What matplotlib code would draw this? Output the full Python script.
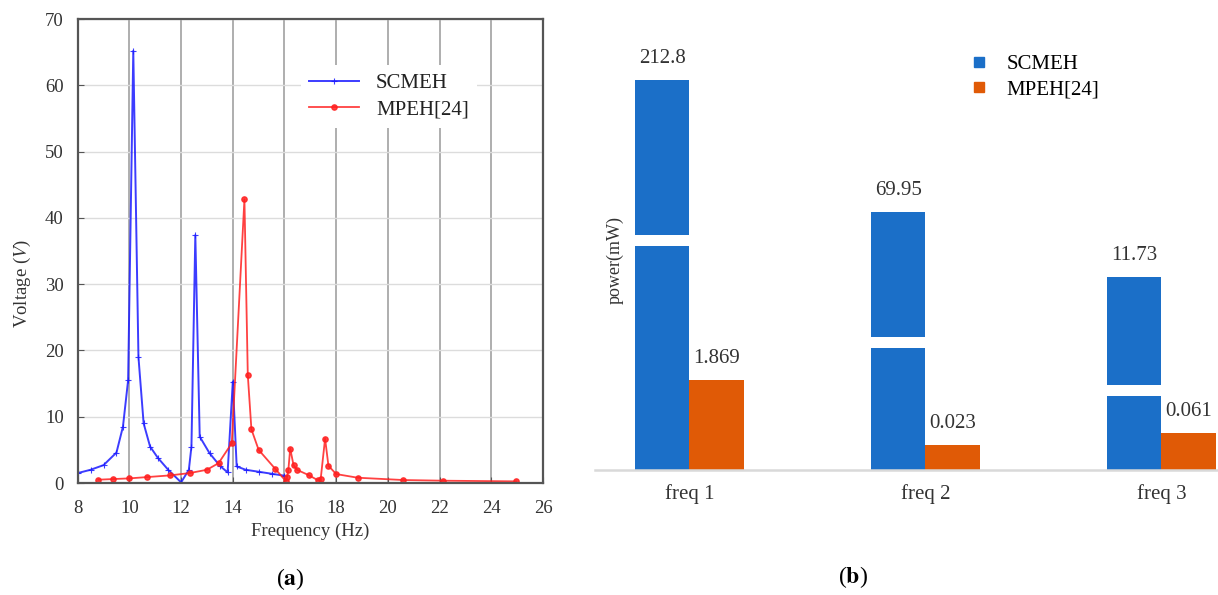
import numpy as np
import matplotlib.pyplot as plt
from matplotlib.lines import Line2D

plt.rcParams['font.family'] = ['Liberation Serif', 'DejaVu Serif']
plt.rcParams['mathtext.fontset'] = 'stix'

# (a) voltage response
scmeh_f = [8.0, 8.5, 9.0, 9.5, 9.75, 9.95, 10.15, 10.35, 10.55, 10.8, 11.1, 11.5, 12.0,
           12.3, 12.4, 12.55, 12.72, 13.1, 13.5, 13.8, 14.0, 14.15, 14.5, 15.0, 15.5, 16.0]
scmeh_v = [1.5, 2.0, 2.7, 4.6, 8.5, 15.5, 65.2, 19.0, 9.0, 5.5, 3.8, 2.0, 0.1,
           2.0, 5.5, 37.4, 7.0, 4.5, 2.6, 1.6, 15.3, 2.5, 2.0, 1.7, 1.4, 1.1]

mpeh_f = [8.8, 9.38, 10.0, 10.7, 11.57, 12.33, 13.0, 13.45, 13.96, 14.45, 14.58, 14.72,
          15.0, 15.65, 16.05, 16.1, 16.15, 16.22, 16.35, 16.48, 16.93, 17.3, 17.4, 17.57,
          17.7, 18.0, 18.83, 20.6, 22.13, 24.97]
mpeh_v = [0.5, 0.6, 0.7, 0.9, 1.15, 1.5, 2.0, 3.0, 6.0, 42.8, 16.3, 8.1,
          5.0, 2.1, 0.3, 0.9, 2.0, 5.2, 2.7, 2.0, 1.2, 0.4, 0.6, 6.7,
          2.6, 1.35, 0.8, 0.45, 0.35, 0.25]

# (b) power, bars are drawn on a broken (not to scale) axis
freqs = ['freq 1', 'freq 2', 'freq 3']
scmeh_power = ['212.8', '69.95', '11.73']
mpeh_power = ['1.869', '0.023', '0.061']
scmeh_shown = [390, 258, 193]      # drawn bar heights
mpeh_shown = [90, 25, 37]
break_low = [224, 122, 74]         # where the white break band sits
break_size = 11

fig = plt.figure(figsize=(12.18, 5.95), dpi=100)

# ---- left panel ----
ax1 = fig.add_axes([0.0638, 0.1882, 0.3820, 0.7798])
ax1.plot(scmeh_f, scmeh_v, color='#1a1aff', lw=1.4, alpha=0.85, marker='+',
         ms=4, mew=0.8, label='SCMEH')
ax1.plot(mpeh_f, mpeh_v, color='#ff2020', lw=1.3, alpha=0.85, marker='o',
         ms=3.8, label='MPEH[24]')
ax1.set_xlim(8, 26)
ax1.set_ylim(0, 70)
ax1.set_xticks(np.arange(8, 27, 2))
ax1.set_yticks(np.arange(0, 71, 10))
ax1.xaxis.grid(True, color='#a8a8a8', lw=1.3)
ax1.yaxis.grid(True, color='#dcdcdc', lw=1.0)
ax1.set_axisbelow(True)
for s in ax1.spines.values():
    s.set_color('#555555')
    s.set_linewidth(1.6)
ax1.tick_params(direction='in', length=4, color='#555555', labelsize=13.5,
                labelcolor='#333333')
ax1.tick_params(axis='x', pad=12)
ax1.tick_params(axis='y', pad=10)
ax1.set_xlabel('Frequency (Hz)', fontsize=13.5, color='#333333', labelpad=4)
fig.text(22 / 1218, (595 - 283) / 595, r'Voltage ($V$)', rotation=90,
         ha='center', va='center', fontsize=13.5, color='#333333')
leg = ax1.legend(loc='upper left', bbox_to_anchor=(0.48, 0.90), fontsize=15,
                 handlelength=2.4, handletextpad=0.8, borderaxespad=0,
                 frameon=True, edgecolor='none', facecolor='white', framealpha=1,
                 labelspacing=0.3)
for t in leg.get_texts():
    t.set_color('#222222')

# ---- right panel ----
ax2 = fig.add_axes([0.4885, 0.2101, 0.5115, 0.7227])
x = np.arange(len(freqs))
w = 0.23
blue = '#1b6fc8'
orange = '#e05a06'
ax2.bar(x - w / 2, scmeh_shown, w, color=blue)
ax2.bar(x + w / 2, mpeh_shown, w, color=orange)
ax2.bar(x - w / 2, [break_size] * 3, w * 1.1, bottom=break_low, color='white')
for i in range(len(freqs)):
    ax2.text(x[i] - w / 2, scmeh_shown[i] + 12, scmeh_power[i], ha='center',
             va='bottom', fontsize=15, color='#333333')
    ax2.text(x[i] + w / 2, mpeh_shown[i] + 12, mpeh_power[i], ha='center',
             va='bottom', fontsize=15, color='#333333')
ax2.set_xlim(-0.40, 2.24)
ax2.set_ylim(0, 430)
ax2.set_xticks(x)
ax2.set_xticklabels(freqs, fontsize=15, color='#333333')
ax2.tick_params(axis='x', length=0, pad=10)
ax2.set_yticks([])
for k in ['top', 'right', 'left']:
    ax2.spines[k].set_visible(False)
ax2.spines['bottom'].set_color('#d9d9d9')
ax2.spines['bottom'].set_linewidth(1.8)
ax2.text(-0.315, 210, 'power(mW)', rotation=90, ha='center', va='center',
         fontsize=13, color='#333333')
handles = [Line2D([], [], marker='s', ls='none', color=blue, ms=7),
           Line2D([], [], marker='s', ls='none', color=orange, ms=7)]
ax2.legend(handles, ['SCMEH', 'MPEH[24]'], loc='upper left',
           bbox_to_anchor=(0.57, 0.985), frameon=False, fontsize=15,
           handletextpad=0.3, labelspacing=0.25, borderaxespad=0)

fig.text(290 / 1218, (595 - 579) / 595, r'($\mathbf{a}$)', ha='center',
         va='center', fontsize=17)
fig.text(853 / 1218, (595 - 577) / 595, r'($\mathbf{b}$)', ha='center',
         va='center', fontsize=17)

fig.savefig('out.png', dpi=100)
